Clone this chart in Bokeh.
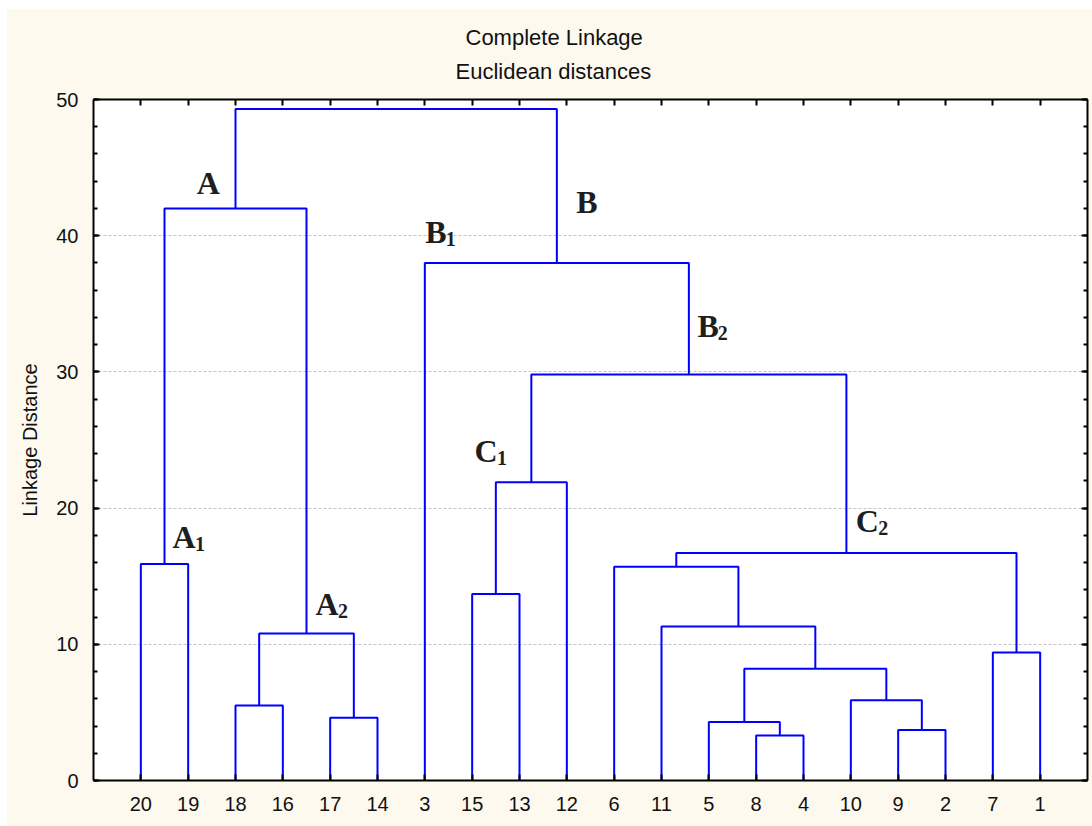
from bokeh.plotting import figure
from bokeh.models import (Range1d, FixedTicker, LinearAxis, Title,
                          ColumnDataSource, SingleIntervalTicker,
                          CustomLabelingPolicy)
from bokeh.core.properties import value
from bokeh.embed import file_html
from bokeh.resources import INLINE

# Leaf order along the horizontal axis
leaves = ["20", "19", "18", "16", "17", "14", "3", "15", "13", "12",
          "6", "11", "5", "8", "4", "10", "9", "2", "7", "1"]

# Agglomeration steps: clusters joined (leaf name or "m<k>" for step k) and linkage distance
merge_a = ["8", "9", "5", "17", "18", "10", "m2", "7", "m4", "11",
           "15", "6", "20", "m11", "m10", "m14", "3", "m12", "m17"]
merge_b = ["4", "2", "m0", "14", "16", "m1", "m5", "1", "m3", "m6",
           "13", "m9", "19", "m7", "12", "m13", "m15", "m8", "m16"]
merge_h = [3.3, 3.7, 4.3, 4.6, 5.5, 5.9, 8.2, 9.4, 10.8, 11.3,
           13.7, 15.7, 15.9, 16.7, 21.9, 29.8, 38.0, 42.0, 49.3]

# Cluster annotations: main letter, subscript, cluster step they mark
group_letter = ["A", "A", "A", "B", "B", "B", "C", "C"]
group_sub = ["", "1", "2", "", "1", "2", "1", "2"]
group_node = ["m17", "m12", "m8", "m16", "m16", "m15", "m14", "m13"]
# placement of each annotation relative to its node, in axis units
group_dx = [-0.82, 0.17, 0.19, 0.41, -2.78, 0.18, -1.20, 0.20]
group_dy = [0.58, 0.63, 0.87, 3.13, 0.93, 2.28, 1.00, 1.06]

# ---- build dendrogram geometry -------------------------------------------
pos = {name: (i + 1, 0.0) for i, name in enumerate(leaves)}
xs, ys = [], []
for k, (a, b, h) in enumerate(zip(merge_a, merge_b, merge_h)):
    xa, ha = pos[a]
    xb, hb = pos[b]
    xs.append([xa, xa, xb, xb])
    ys.append([ha, h, h, hb])
    pos["m%d" % k] = ((xa + xb) / 2.0, h)

BG = "#fdf9ef"
SANS = "Liberation Sans"
SERIF = "Liberation Serif"

p = figure(frame_width=994, frame_height=681, width=1086, height=818,
           x_range=Range1d(0, len(leaves) + 1), y_range=Range1d(0, 50),
           output_backend="svg", toolbar_location=None,
           background_fill_color="white", border_fill_color=BG,
           min_border_left=87, min_border_right=5, min_border_bottom=46,
           min_border_top=91, outline_line_color=None)
p.margin = (8, 0, 0, 6)

leaf_ticks = list(range(1, len(leaves) + 1))
yticker = SingleIntervalTicker(interval=10, num_minor_ticks=5)

def style_axis(ax):
    ax.axis_line_width = 2
    ax.axis_line_color = "black"
    ax.major_tick_line_color = "black"
    ax.minor_tick_line_color = "black"
    ax.major_tick_line_width = 2
    ax.minor_tick_line_width = 2
    ax.major_tick_in = 6
    ax.major_tick_out = 0
    ax.minor_tick_in = 4
    ax.minor_tick_out = 0
    ax.major_label_text_font = SANS
    ax.major_label_text_font_size = "20px"
    ax.major_label_text_color = "#111111"

# bottom axis: leaf names
xa = p.below[0]
xa.ticker = FixedTicker(ticks=leaf_ticks)
xa.major_label_overrides = {i + 1: name for i, name in enumerate(leaves)}
style_axis(xa)
xa.major_label_standoff = 16

# left axis: linkage distance
ya = p.left[0]
ya.ticker = yticker
style_axis(ya)
ya.major_label_standoff = 15
ya.axis_label = "Linkage Distance"
ya.axis_label_text_font = SANS
ya.axis_label_text_font_size = "20px"
ya.axis_label_text_font_style = "normal"
ya.axis_label_text_color = "#111111"
ya.axis_label_standoff = 12

# border axes (top / right) carry ticks only
no_labels = CustomLabelingPolicy(code="return []")

top = LinearAxis(ticker=FixedTicker(ticks=leaf_ticks))
style_axis(top)
top.major_label_policy = no_labels
top.major_label_standoff = 0
top.major_label_text_font_size = "1px"
p.add_layout(top, "above")

right = LinearAxis(ticker=yticker)
style_axis(right)
right.major_label_policy = no_labels
right.major_label_standoff = 0
right.major_label_text_font_size = "1px"
p.add_layout(right, "right")

# titles (first added sits closest to the plot)
t2 = Title(text="Euclidean distances", align="left", text_font=SANS,
           text_font_size="22px", text_font_style="normal",
           text_color="#111111", offset=362, standoff=24)
t1 = Title(text="Complete Linkage", align="left", text_font=SANS,
           text_font_size="22px", text_font_style="normal",
           text_color="#111111", offset=372, standoff=-11)
p.add_layout(t2, "above")
p.add_layout(t1, "above")

# dendrogram links
p.multi_line(xs=xs, ys=ys, line_color="#0000ff", line_width=2)

# cluster annotations
lx = [pos[n][0] + dx for n, dx in zip(group_node, group_dx)]
ly = [pos[n][1] + dy for n, dy in zip(group_node, group_dy)]
letter_w = {"A": 0.70, "B": 0.64, "C": 0.70}
LET_SIZE = 32
src = ColumnDataSource(dict(x=lx, y=ly, letter=group_letter, sub=group_sub,
                            sub_dx=[letter_w[c] * LET_SIZE for c in group_letter]))
p.text(x="x", y="y", text="letter", source=src, text_font=value(SERIF),
       text_font_style="bold", text_font_size="%dpx" % LET_SIZE,
       text_color="#1e1e1e", text_align="left", text_baseline="bottom")
p.text(x="x", y="y", text="sub", source=src, x_offset="sub_dx", y_offset=-4,
       text_font=value(SERIF), text_font_style="bold", text_font_size="20px",
       text_color="#1e1e1e", text_align="left", text_baseline="bottom")

# grid
p.xgrid.grid_line_color = None
p.ygrid.grid_line_color = "#c4c4c4"
p.ygrid.grid_line_dash = "3 2"
p.ygrid.grid_line_width = 1

open("out.html", "w").write(file_html(p, INLINE))
